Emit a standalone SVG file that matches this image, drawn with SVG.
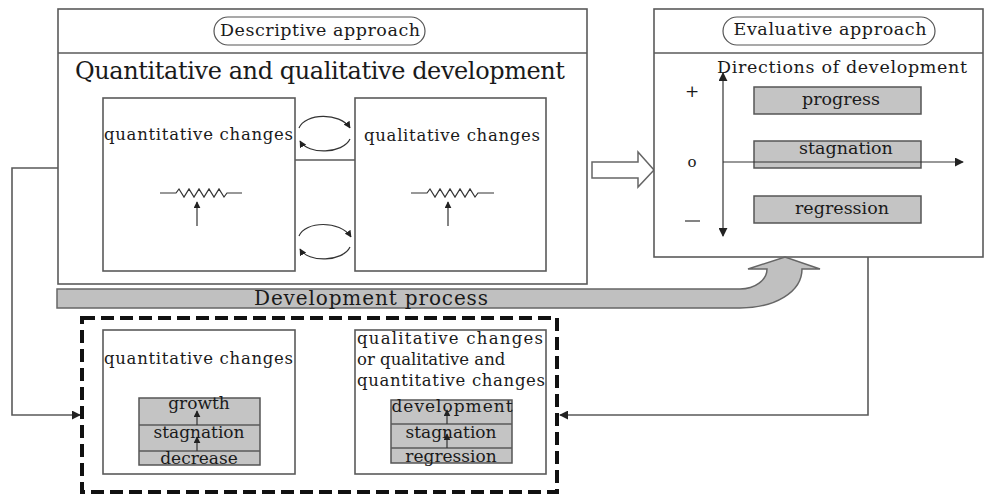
<svg xmlns="http://www.w3.org/2000/svg" width="986" height="497" viewBox="0 0 986 497">
<defs>
<style>
.box{fill:#fff;stroke:#5a5a5a;stroke-width:1.6}
.ln{fill:none;stroke:#5a5a5a;stroke-width:1.6}
.thin{fill:none;stroke:#333;stroke-width:1.2}
.g{fill:#c4c4c4;stroke:#555;stroke-width:1.5}
.t{font-family:"DejaVu Serif","Liberation Serif",serif;fill:#1a1a1a}
.c{text-anchor:middle}
</style>
<marker id="ah" viewBox="0 0 10 10" refX="9" refY="5" markerWidth="9" markerHeight="9" markerUnits="userSpaceOnUse" orient="auto">
<path d="M0,0 L10,5 L0,10 z" fill="#222"/>
</marker>
<marker id="ahs" viewBox="0 0 10 10" refX="9" refY="5" markerWidth="7" markerHeight="7" markerUnits="userSpaceOnUse" orient="auto">
<path d="M0,0 L10,5 L0,10 z" fill="#222"/>
</marker>
</defs>
<rect width="986" height="497" fill="#fff"/>

<g id="connectors">
<path class="ln" d="M58 168 H12 V415 H80" marker-end="url(#ah)"/>
<path class="ln" d="M868 257 V415 H560" marker-end="url(#ah)"/>
<path d="M592 162 H638 V152 L654 170 L638 187 V178 H592 Z" fill="#fff" stroke="#666" stroke-width="1.5"/>
</g>

<g id="descriptive">
<rect class="box" x="58" y="9" width="529" height="275"/>
<line class="ln" x1="58" y1="53" x2="587" y2="53"/>
<rect x="214" y="17" width="211" height="28" rx="14" fill="#fff" stroke="#555" stroke-width="1.2"/>
<text class="t c" x="320" y="36" font-size="17.5" textLength="200">Descriptive approach</text>
<text class="t" x="75" y="79" font-size="24" textLength="490">Quantitative and qualitative development</text>
</g>

<g id="quant-top">
<rect class="box" x="103" y="98" width="192" height="173"/>
<text class="t" x="104" y="140" font-size="16.5" textLength="189">quantitative changes</text>
<path class="thin" d="M160 193 H176 L179 189 L184 197 L189 189 L194 197 L199 189 L204 197 L209 189 L214 197 L219 189 L224 197 L227 193 H242"/>
<line class="thin" x1="197" y1="226" x2="197" y2="202" stroke-width="1.6" marker-end="url(#ahs)"/>
</g>

<g id="qual-top">
<rect class="box" x="355" y="98" width="191" height="173"/>
<text class="t" x="364" y="141" font-size="16.5" textLength="176">qualitative changes</text>
<path class="thin" d="M411 193 H427 L430 189 L435 197 L440 189 L445 197 L450 189 L455 197 L460 189 L465 197 L470 189 L475 197 L478 193 H494"/>
<line class="thin" x1="448" y1="226" x2="448" y2="202" stroke-width="1.6" marker-end="url(#ahs)"/>
</g>

<g id="cycle">
<line class="ln" x1="295" y1="160" x2="355" y2="160"/>
<path class="thin" d="M299 128 C305 113 340 112 350 128" marker-end="url(#ahs)"/>
<path class="thin" d="M350 139 C343 154 308 155 300 141" marker-end="url(#ahs)"/>
<path class="thin" d="M299 236 C305 221 340 220 351 237" marker-end="url(#ahs)"/>
<path class="thin" d="M350 247 C343 262 308 263 300 249" marker-end="url(#ahs)"/>
</g>

<g id="evaluative">
<rect class="box" x="654" y="9" width="329" height="248"/>
<line class="ln" x1="654" y1="53" x2="983" y2="53"/>
<rect x="723" y="17" width="212" height="28" rx="14" fill="#fff" stroke="#555" stroke-width="1.2"/>
<text class="t c" x="830" y="35" font-size="17.5" textLength="193">Evaluative approach</text>
<text class="t" x="717" y="73" font-size="17.5" textLength="250">Directions of development</text>
<text class="t c" x="692" y="97" font-size="17">+</text>
<text class="t c" x="692" y="167" font-size="15">o</text>
<line x1="685" y1="221" x2="700" y2="221" stroke="#333" stroke-width="1.2"/>
<rect class="g" x="754" y="87" width="167" height="27"/>
<rect class="g" x="754" y="141" width="167" height="27"/>
<rect class="g" x="754" y="196" width="167" height="27"/>
<line class="thin" x1="723" y1="150" x2="723" y2="73" marker-end="url(#ah)"/>
<line class="thin" x1="723" y1="150" x2="723" y2="236" marker-end="url(#ah)"/>
<line class="thin" x1="723" y1="162" x2="963" y2="162" marker-end="url(#ah)"/>
<text class="t c" x="841" y="105" font-size="17.5">progress</text>
<text class="t c" x="846" y="154" font-size="17.5">stagnation</text>
<text class="t c" x="842" y="214" font-size="17.5">regression</text>
</g>

<g id="process">
<path d="M57 289 H740 C755 289 767 280 767 269 H748 L785 257 L820 269 H802 C802 292 775 308 740 308 H57 Z" fill="#c0c0c0" stroke="#666" stroke-width="1.5"/>
<text class="t c" x="371" y="305" font-size="20" textLength="234">Development process</text>
</g>

<g id="dashed-group">
<rect x="82" y="318" width="475" height="174" fill="none" stroke="#111" stroke-width="4" stroke-dasharray="13 6"/>
</g>

<g id="quant-bottom">
<rect class="box" x="103" y="330" width="192" height="144"/>
<text class="t" x="104" y="364" font-size="16.5" textLength="189">quantitative changes</text>
<rect class="g" x="139" y="398" width="121" height="67"/>
<line class="ln" x1="139" y1="425" x2="260" y2="425"/>
<line class="ln" x1="139" y1="451" x2="260" y2="451"/>
<line class="thin" x1="197" y1="425" x2="197" y2="411" marker-end="url(#ahs)"/>
<line class="thin" x1="197" y1="451" x2="197" y2="437" marker-end="url(#ahs)"/>
<text class="t c" x="199" y="409" font-size="17">growth</text>
<text class="t c" x="199" y="438" font-size="17">stagnation</text>
<text class="t c" x="199" y="464" font-size="17">decrease</text>
</g>

<g id="qual-bottom">
<rect class="box" x="355" y="330" width="191" height="144"/>
<text class="t" x="357" y="344" font-size="16.5" textLength="186">qualitative changes</text>
<text class="t" x="357" y="365" font-size="16.5">or qualitative and</text>
<text class="t" x="357" y="386" font-size="16.5" textLength="188">quantitative changes</text>
<rect class="g" x="391" y="400" width="121" height="63"/>
<line class="ln" x1="391" y1="424" x2="512" y2="424"/>
<line class="ln" x1="391" y1="448" x2="512" y2="448"/>
<line class="thin" x1="447" y1="424" x2="447" y2="410" marker-end="url(#ahs)"/>
<line class="thin" x1="447" y1="448" x2="447" y2="434" marker-end="url(#ahs)"/>
<text class="t c" x="452" y="412" font-size="17" textLength="121">development</text>
<text class="t c" x="451" y="438" font-size="17">stagnation</text>
<text class="t c" x="451" y="462" font-size="17">regression</text>
</g>
</svg>
